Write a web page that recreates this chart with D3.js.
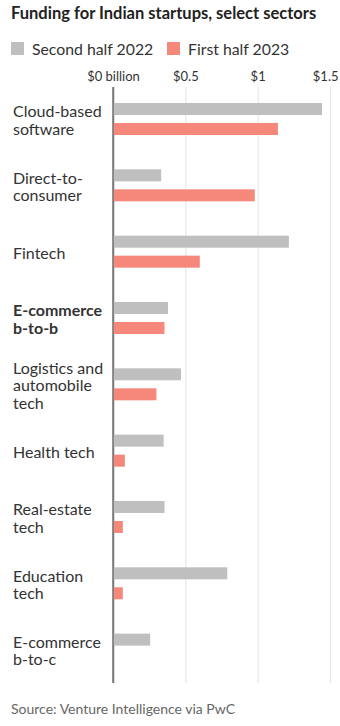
<!DOCTYPE html>
<html>
<head>
<meta charset="utf-8">
<script src="https://cdn.jsdelivr.net/npm/d3@7"></script>
<style>
	body { margin: 0; background: #fff; }
	svg { display: block; font-family: Lato, "Noto Sans", sans-serif; }
</style>
</head>
<body>
<svg id="chart"></svg>
<script>
// data (billions of dollars)
const categories = [
	"Cloud-based software",
	"Direct-to- consumer",
	"Fintech",
	"E-commerce b-to-b",
	"Logistics and automobile tech",
	"Health tech",
	"Real-estate tech",
	"Education tech",
	"E-commerce b-to-c"
];
const labelLines = [
	["Cloud-based", "software"],
	["Direct-to-", "consumer"],
	["Fintech"],
	["E-commerce", "b-to-b"],
	["Logistics and", "automobile", "tech"],
	["Health tech"],
	["Real-estate", "tech"],
	["Education", "tech"],
	["E-commerce", "b-to-c"]
];
const boldCategory = "E-commerce b-to-b";
const series = ["Second half 2022", "First half 2023"];
const secondHalf2022 = [1.445, 0.333, 1.216, 0.38, 0.47, 0.35, 0.356, 0.79, 0.257];
const firstHalf2023 = [1.14, 0.98, 0.60, 0.356, 0.30, 0.082, 0.068, 0.068, 0.002];
const tickValues = [0, 0.5, 1, 1.5];
const tickLabels = ["$0 billion", "$0.5", "$1", "$1.5"];
const colors = ["#bfbfbf", "#f5887a"];

const width = 340;
const height = 726;

const svg = d3.select("#chart").attr("width", width).attr("height", height);

// title
svg.append("text")
	.attr("x", 11)
	.attr("y", 19)
	.attr("font-size", 16.5)
	.attr("font-weight", 700)
	.attr("fill", "#222")
	.text("Funding for Indian startups, select sectors");

// legend
const legend = svg.append("g").attr("transform", "translate(11,42)");
const legendX = [0, 156];
series.forEach((s, i) => {
	const g = legend.append("g").attr("transform", `translate(${legendX[i]},0)`);
	g.append("rect").attr("width", 13).attr("height", 13).attr("fill", colors[i]);
	g.append("text")
		.attr("x", 21)
		.attr("y", 12.5)
		.attr("font-size", 15.8)
		.attr("fill", "#333")
		.text(s);
});

// scales
const x = d3.scaleLinear().domain([0, 1.5]).range([113, 330]);
const y = d3.scaleBand().domain(categories).range([103, 103 + 66.33 * categories.length]);
const ySub = d3.scaleBand().domain(series).range([0, 32]).paddingInner(0.4);

const axisTop = 87;
const axisBottom = 683;

// axis with gridlines
const axis = svg.append("g")
	.attr("transform", `translate(0,${axisTop})`)
	.call(
		d3.axisTop(x)
			.tickValues(tickValues)
			.tickSize(-(axisBottom - axisTop))
			.tickPadding(6)
			.tickFormat((d, i) => tickLabels[i])
	);
axis.select(".domain").remove();
axis.selectAll(".tick line")
	.attr("stroke", (d) => (d === 0 ? "#777" : "#e2e2e2"))
	.attr("stroke-width", (d) => (d === 0 ? 1.5 : 1));
axis.selectAll(".tick text")
	.attr("font-family", "Lato, 'Noto Sans', sans-serif")
	.attr("font-size", 13)
	.attr("fill", "#333")
	.attr("text-anchor", (d) => (d === 1.5 ? "end" : "middle"))
	.attr("dx", (d) => (d === 1.5 ? 8 : 0));

// bars
const rows = categories.map((c, i) => ({
	category: c,
	values: [secondHalf2022[i], firstHalf2023[i]]
}));

const groups = svg.append("g")
	.selectAll("g")
	.data(rows)
	.join("g")
	.attr("transform", (d) => `translate(0,${y(d.category)})`);

groups.selectAll("rect")
	.data((d) => d.values.map((v, i) => ({ key: series[i], value: v, i })))
	.join("rect")
	.attr("x", x(0))
	.attr("y", (d) => ySub(d.key))
	.attr("width", (d) => x(d.value) - x(0))
	.attr("height", ySub.bandwidth())
	.attr("fill", (d) => colors[d.i]);

// keep zero line above bars
svg.append("line")
	.attr("x1", x(0))
	.attr("x2", x(0))
	.attr("y1", axisTop)
	.attr("y2", axisBottom)
	.attr("stroke", "#777")
	.attr("stroke-width", 1.5);

// category labels, centred on the pair of bars
const lineHeight = 17.5;
groups.append("text")
	.attr("x", 13)
	.attr("y", (d, i) => 23 - (labelLines[i].length - 1) * lineHeight / 2)
	.attr("font-size", 16)
	.attr("fill", "#333")
	.attr("font-weight", (d) => (d.category === boldCategory ? 700 : 400))
	.selectAll("tspan")
	.data((d, i) => labelLines[i])
	.join("tspan")
	.attr("x", 13)
	.attr("dy", (d, i) => (i === 0 ? 0 : lineHeight))
	.text((d) => d);

// source
svg.append("text")
	.attr("x", 11)
	.attr("y", 714)
	.attr("font-size", 14)
	.attr("fill", "#666")
	.text("Source: Venture Intelligence via PwC");
</script>
</body>
</html>
